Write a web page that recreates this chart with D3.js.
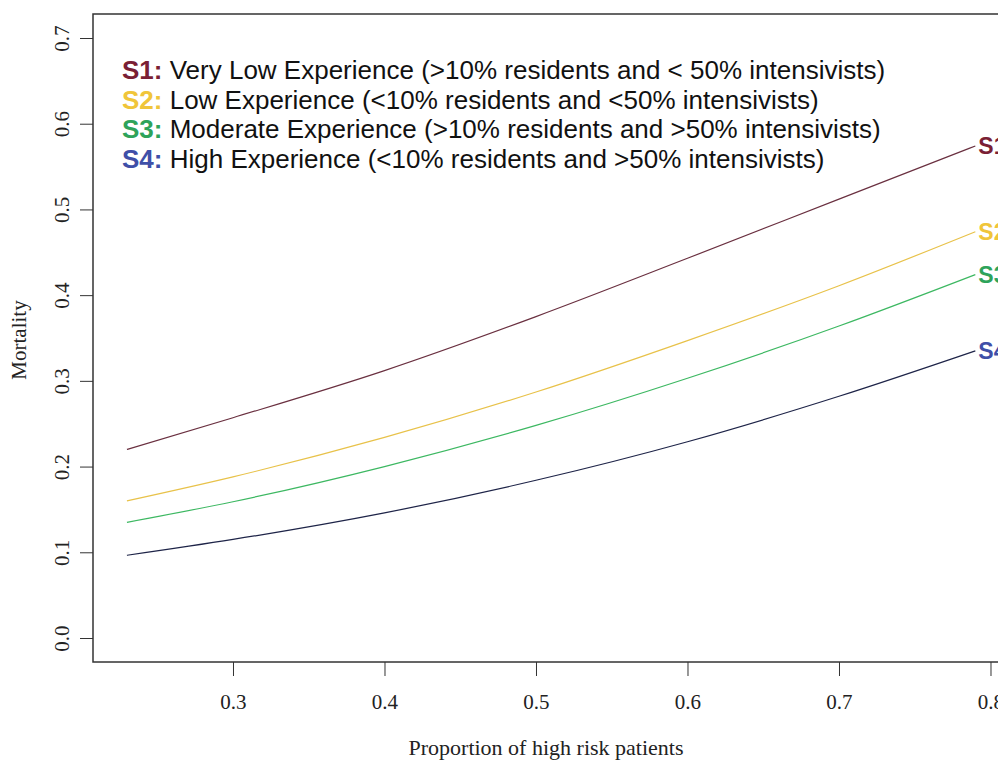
<!DOCTYPE html>
<html>
  <head>
    <meta charset="utf-8">
    <title>Mortality by proportion of high risk patients</title>
    <script src="https://cdn.jsdelivr.net/npm/d3@7"></script>
    <style>
      body { margin: 0; background: #fff; }
      svg { display: block; }
      .axis text { font-family: "Liberation Serif", "Times New Roman", serif; font-size: 21px; fill: #222; }
      .legend text { font-family: "Liberation Sans", Arial, sans-serif; font-size: 26px; }
    </style>
  </head>
  <body>
    <div id="chart"></div>
    <script>
      // proportion of high risk patients (x) and mortality
      var xs = [0.23, 0.30, 0.40, 0.50, 0.60, 0.70, 0.79];
      var s1 = [0.220, 0.257, 0.312, 0.375, 0.443, 0.512, 0.574];
      var s2 = [0.160, 0.188, 0.234, 0.287, 0.347, 0.411, 0.474];
      var s3 = [0.135, 0.159, 0.200, 0.248, 0.303, 0.364, 0.424];
      var s4 = [0.0965, 0.115, 0.146, 0.184, 0.229, 0.282, 0.335];

      var seriesNames = ["S1", "S2", "S3", "S4"];
      var legendTexts = [
        " Very Low Experience (>10% residents and < 50% intensivists)",
        " Low Experience (<10% residents and <50% intensivists)",
        " Moderate Experience (>10% residents and >50% intensivists)",
        " High Experience (<10% residents and >50% intensivists)"
      ];
      var xTicks = [0.3, 0.4, 0.5, 0.6, 0.7, 0.8];
      var yTicks = [0, 0.1, 0.2, 0.3, 0.4, 0.5, 0.6, 0.7];

      var labelColors = ["#7a1f35", "#f0c53a", "#2ea35a", "#3f4fa8"];
      var lineColors = ["#6a3040", "#e8c24a", "#3db862", "#1e2448"];

      var width = 998, height = 761;
      var plotLeft = 93, plotTop = 14, plotBottom = 662;

      var svg = d3.select("#chart").append("svg")
        .attr("width", width)
        .attr("height", height);

      // R style: range extended by 4% on each side
      var xr = 0.79 - 0.23;
      var xMin = 0.23 - 0.04 * xr, xMax = 0.79 + 0.04 * xr;
      var x = d3.scaleLinear()
        .domain([xMin, xMax])
        .range([plotLeft, plotLeft + (xMax - xMin) * 1515]);
      var y = d3.scaleLinear()
        .domain([-0.028, 0.728])
        .range([plotBottom, plotTop]);

      // x axis
      var xAxis = svg.append("g")
        .attr("class", "axis")
        .attr("transform", "translate(0," + plotBottom + ")")
        .call(d3.axisBottom(x).tickValues(xTicks).tickSize(14).tickPadding(18).tickFormat(d3.format(".1f")));
      xAxis.select(".domain").remove();
      xAxis.selectAll("line").attr("stroke", "#333");

      // y axis, labels rotated like R
      var yAxis = svg.append("g")
        .attr("class", "axis")
        .attr("transform", "translate(" + plotLeft + ",0)")
        .call(d3.axisLeft(y).tickValues(yTicks).tickSize(13).tickFormat(d3.format(".1f")));
      yAxis.select(".domain").remove();
      yAxis.selectAll("line").attr("stroke", "#333");
      yAxis.selectAll("text")
        .attr("x", null).attr("dy", null)
        .attr("text-anchor", "middle")
        .attr("transform", "translate(-31,0) rotate(-90) translate(0,7)");

      // plot box
      svg.append("rect")
        .attr("x", plotLeft)
        .attr("y", plotTop)
        .attr("width", x.range()[1] - plotLeft)
        .attr("height", plotBottom - plotTop)
        .attr("fill", "none")
        .attr("stroke", "#333")
        .attr("stroke-width", 1.5);

      // axis titles
      svg.append("text")
        .attr("x", 546).attr("y", 755)
        .attr("text-anchor", "middle")
        .style("font-family", "Liberation Serif, serif")
        .style("font-size", "22px")
        .attr("fill", "#222")
        .text("Proportion of high risk patients");
      svg.append("text")
        .attr("transform", "translate(26,340) rotate(-90)")
        .attr("text-anchor", "middle")
        .style("font-family", "Liberation Serif, serif")
        .style("font-size", "21px")
        .attr("fill", "#222")
        .text("Mortality");

      // curves
      var line = d3.line()
        .x(function(d) { return x(d[0]); })
        .y(function(d) { return y(d[1]); })
        .curve(d3.curveMonotoneX);

      var allSeries = [s1, s2, s3, s4];
      allSeries.forEach(function(vals, i) {
        var pts = xs.map(function(v, j) { return [v, vals[j]]; });
        svg.append("path")
          .datum(pts)
          .attr("d", line)
          .attr("fill", "none")
          .attr("stroke", lineColors[i])
          .attr("stroke-width", 1.2);

        // label at the end of each curve
        svg.append("text")
          .attr("x", x(xs[xs.length - 1]) + 3)
          .attr("y", y(vals[vals.length - 1]) + 8)
          .style("font-family", "Liberation Sans, Arial, sans-serif")
          .style("font-size", "23px")
          .style("font-weight", "bold")
          .attr("fill", labelColors[i])
          .text(seriesNames[i]);
      });

      // legend
      var legend = svg.append("g").attr("class", "legend");
      seriesNames.forEach(function(name, i) {
        var t = legend.append("text")
          .attr("x", 122)
          .attr("y", 79 + i * 29.5);
        t.append("tspan")
          .attr("fill", labelColors[i])
          .style("font-weight", "bold")
          .text(name + ":");
        t.append("tspan")
          .attr("fill", "#111")
          .text(legendTexts[i]);
      });
    </script>
  </body>
</html>
